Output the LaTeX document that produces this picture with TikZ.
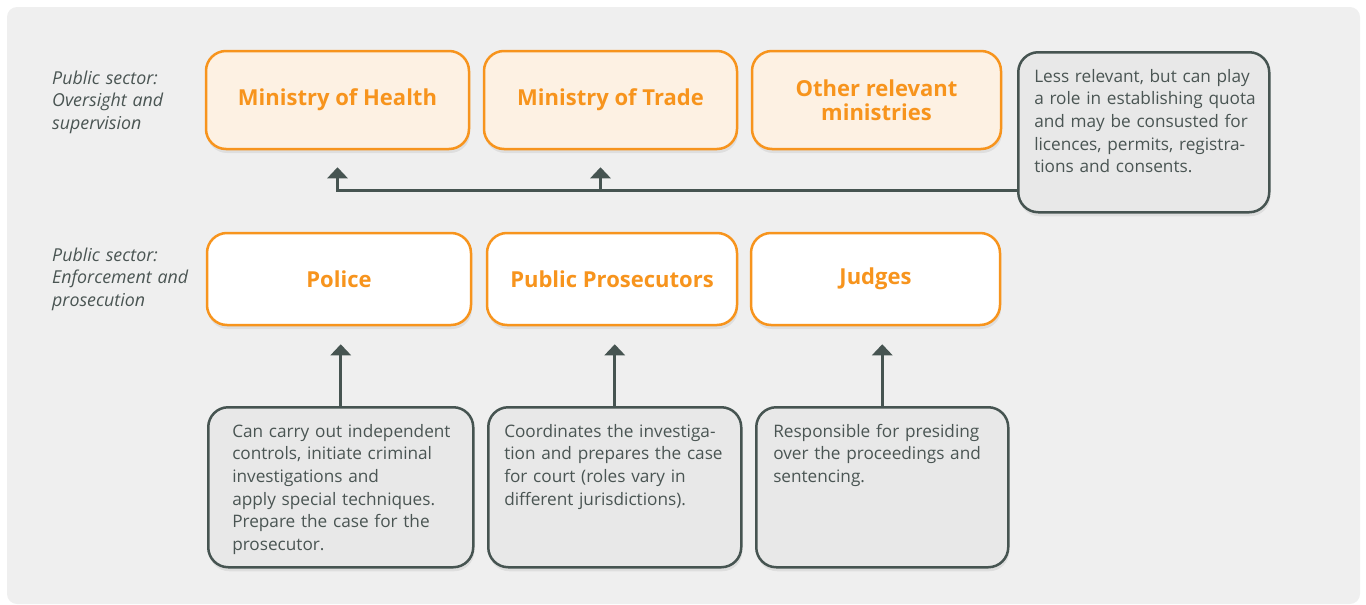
\documentclass[tikz,border=0pt]{standalone}
\usepackage{fontspec}
\setmainfont{Open Sans}
\usetikzlibrary{shadows,arrows.meta}
\definecolor{bgc}{HTML}{EFEFEF}
\definecolor{org}{HTML}{F7941D}
\definecolor{orgfill}{HTML}{FDF1E3}
\definecolor{dk}{HTML}{465451}
\definecolor{notefill}{HTML}{E8E8E8}
\definecolor{txt}{HTML}{4A5553}
\newcommand{\oneline}[1]{\mbox{#1}}
\begin{document}
\begin{tikzpicture}[x=1pt,y=-1pt,
  shad/.style={drop shadow={shadow xshift=1pt,shadow yshift=-4pt,opacity=0.07,fill=black}},
  box/.style={shad,draw=org,line width=2.5pt,rounded corners=20pt,text=org,
    font=\bfseries\fontsize{22}{24.5}\selectfont,align=center,inner sep=0pt},
  ministry/.style={box,fill=orgfill,minimum height=98pt},
  actor/.style={box,fill=white,minimum height=92pt},
  note/.style={shad,draw=dk,fill=notefill,line width=2.5pt,rounded corners=20pt,text=txt,
    font=\fontsize{17.2}{22.6}\selectfont,align=left,anchor=north west,
    inner ysep=17pt,text height=13pt,text depth=113pt},
  lbl/.style={text=txt,font=\itshape\fontsize{17.8}{22.6}\selectfont,align=left,
    anchor=north west,inner sep=0pt,text width=160pt,text height=13pt},
  conn/.style={draw=dk,line width=3pt,-{Triangle[width=20pt,length=11pt]}}
]
\useasboundingbox (0,0) rectangle (1366,605);
\fill[bgc,rounded corners=10pt] (7,7) rectangle (1360,604);

% row labels
\node[lbl] (lab1) at (52,71) {Public sector:\\Oversight and\\supervision};
\node[lbl] (lab2) at (52,248) {Public sector:\\Enforcement and\\prosecution};

% ministries
\node[ministry,minimum width=263pt] (moh) at (337.5,100) {Ministry of Health};
\node[ministry,minimum width=253pt] (trade) at (610.5,100) {Ministry of Trade};
\node[ministry,minimum width=249pt] (other) at (876.5,100) {Other relevant\\ministries};

% actors
\node[actor,minimum width=264pt] (police) at (339,279) {Police};
\node[actor,minimum width=250pt] (pros) at (612,279) {Public Prosecutors};
\node[actor,minimum width=249pt] (judges) at (875.5,279) {Judges};

% notes
\node[note,inner xsep=16pt,text width=219pt] (less) at (1017,51)
  {\oneline{Less relevant, but can play}\\\oneline{a role in establishing quota}\\\oneline{and may be consusted for}\\\oneline{licences, permits, registra-}\\\oneline{tions and consents.}};
\node[note,inner xsep=24pt,text width=217pt] (pnote) at (207,406)
  {\oneline{Can carry out independent}\\\oneline{controls, initiate criminal}\\\oneline{investigations and}\\\oneline{apply special techniques.}\\\oneline{Prepare the case for the}\\\oneline{prosecutor.}};
\node[note,inner xsep=16pt,text width=221pt] (prnote) at (487,406)
  {\oneline{Coordinates the investiga-}\\\oneline{tion and prepares the case}\\\oneline{for court (roles vary in}\\\oneline{different jurisdictions).}};
\node[note,inner xsep=17pt,text width=218pt] (jnote) at (755,406)
  {\oneline{Responsible for presiding}\\\oneline{over the proceedings and}\\\oneline{sentencing.}};

% connectors
\coordinate (ta) at ([xshift=-10pt]trade.south);
\draw[conn,shorten >=17pt] (less.west |- 0,190) -| (moh.south);
\draw[conn,shorten >=17pt] (ta |- 0,190) -- (ta);
\draw[conn,shorten >=18pt] (pnote.north) -- (pnote.north |- police.south);
\draw[conn,shorten >=18pt] (prnote.north) -- (prnote.north |- pros.south);
\draw[conn,shorten >=18pt] (jnote.north) -- (jnote.north |- judges.south);
\end{tikzpicture}
\end{document}
